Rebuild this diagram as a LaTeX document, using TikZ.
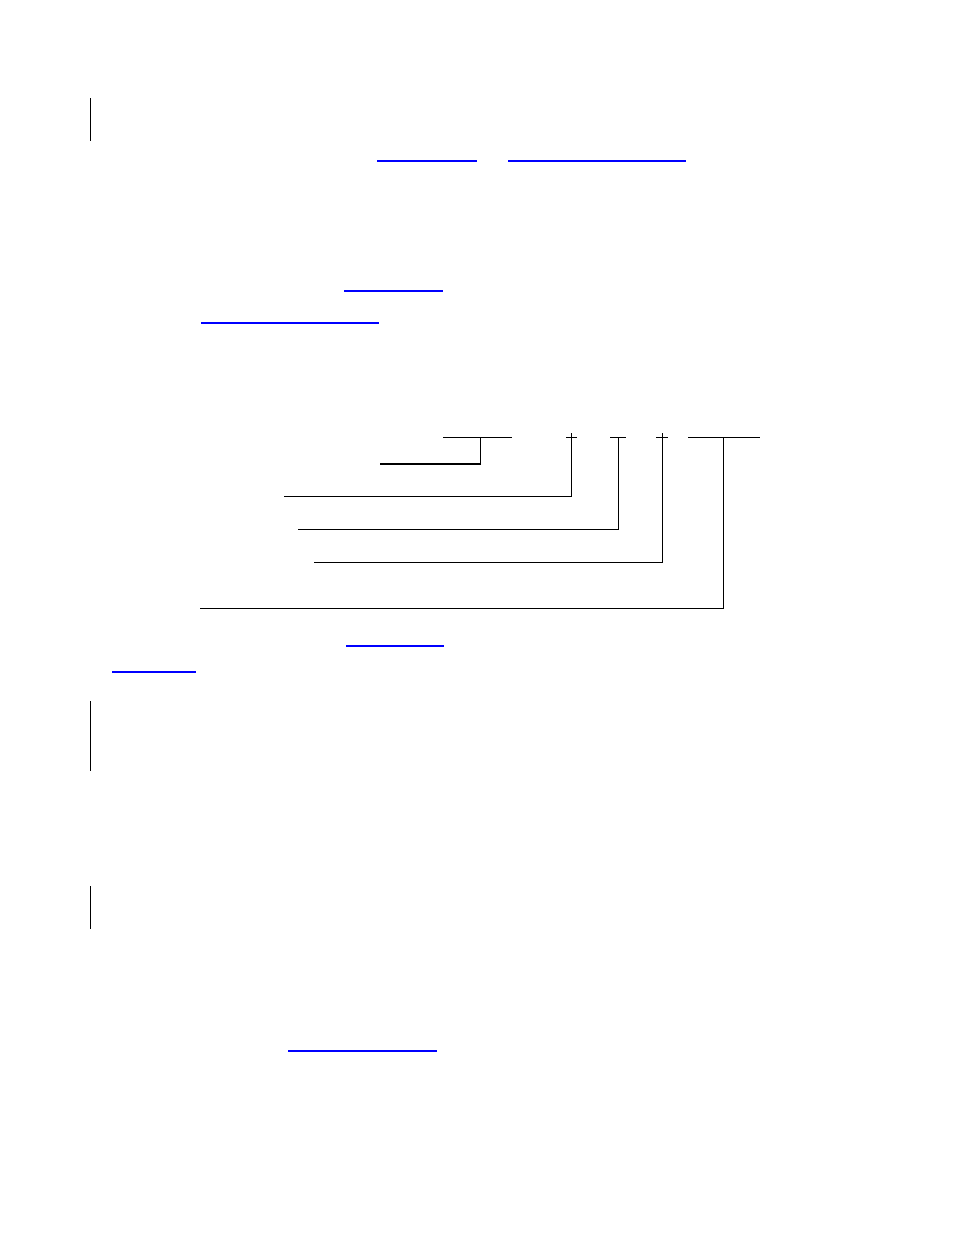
\documentclass[tikz,border=0pt]{standalone}
\usepackage{tikz}
\tikzstyle{rule}=[line width=0.9pt, black]
\tikzstyle{boldrule}=[line width=2pt, black]
\tikzstyle{link}=[line width=1.3pt, blue]
\tikzstyle{bar}=[line width=1pt, black]

\begin{document}
\begin{tikzpicture}[x=1pt, y=-1pt]
     \useasboundingbox (0,0) rectangle (954,1235);

     % change bars in the margin
     \foreach \t/\b in {98/141,701/771,886/929}
       \draw [bar] (90,\t) -- (90,\b);

     % hyperlink underlines
     \foreach \l/\r/\y in {377/477/161,508/686/161,344/443/291,201/379/323,
                           346/444/646,112/196/672,288/437/1051}
       \draw [link] (\l,\y) -- (\r,\y);

     % fields of the syntax line
     \coordinate (fa) at (480,437);
     \coordinate (fb) at (571,437);
     \coordinate (fc) at (618,437);
     \coordinate (fd) at (662,437);
     \coordinate (fe) at (723,437);
     \draw [rule] (443,437) -- (512,437);
     \draw [rule] (566,437) -- (577,437);
     \draw [rule] (610,437) -- (626,437);
     \draw [rule] (656,437) -- (668,437);
     \draw [rule] (688,437) -- (760,437);
     \draw [rule] (571,433) -- (fb);
     \draw [rule] (662,433) -- (fd);

     % ends of the callout leaders
     \coordinate (la) at (380,464);
     \coordinate (lb) at (284,496);
     \coordinate (lc) at (298,529);
     \coordinate (ld) at (314,562);
     \coordinate (le) at (200,608);

     \draw [rule] (fa) |- (la);
     \draw [boldrule] (481,464) -- (la);
     \foreach \u/\v in {fb/lb,fc/lc,fd/ld,fe/le}
       \draw [rule] (\u) |- (\v);
\end{tikzpicture}
\end{document}
